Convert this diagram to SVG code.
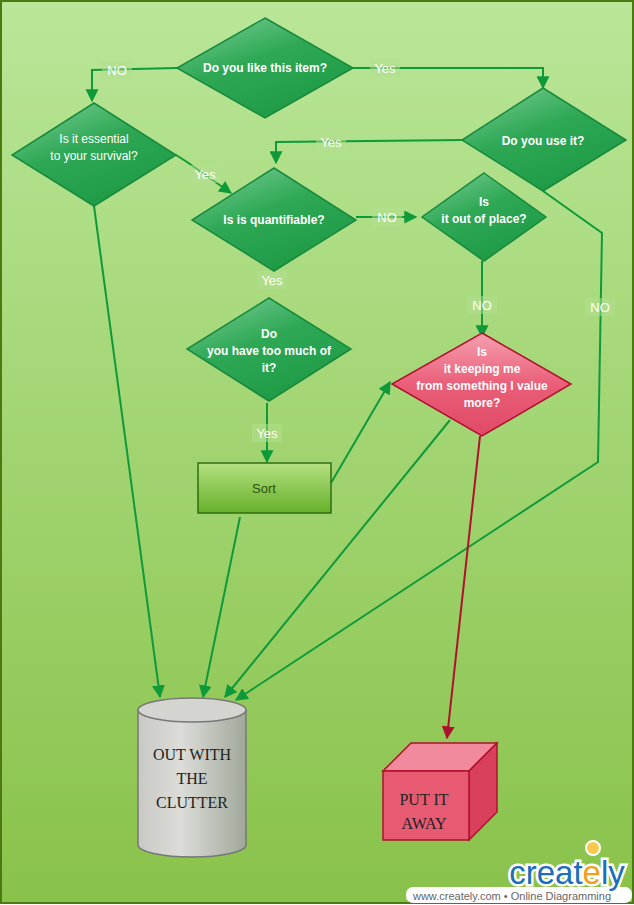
<svg xmlns="http://www.w3.org/2000/svg" width="634" height="905" viewBox="0 0 634 905">
<defs>
<linearGradient id="bg" x1="0" y1="0" x2="0" y2="1"><stop offset="0" stop-color="#b9e698"/><stop offset="1" stop-color="#89c24a"/></linearGradient>
<linearGradient id="dg" x1="0" y1="0" x2="0.6" y2="1"><stop offset="0" stop-color="#7dcf98"/><stop offset="0.5" stop-color="#2ea855"/><stop offset="1" stop-color="#1e9a45"/></linearGradient>
<linearGradient id="pg" x1="0" y1="0" x2="0" y2="1"><stop offset="0" stop-color="#f5a0b0"/><stop offset="0.5" stop-color="#ea5e78"/><stop offset="1" stop-color="#e04a66"/></linearGradient>
<linearGradient id="sg" x1="0" y1="0" x2="0" y2="1"><stop offset="0" stop-color="#b4e080"/><stop offset="1" stop-color="#66b02a"/></linearGradient>
<linearGradient id="cg" x1="0" y1="0" x2="1" y2="0"><stop offset="0" stop-color="#c8c8c4"/><stop offset="0.4" stop-color="#dcdcd8"/><stop offset="1" stop-color="#a0a89a"/></linearGradient>
<marker id="ag" viewBox="0 0 10 10" refX="9" refY="5" markerWidth="6.5" markerHeight="6.5" orient="auto"><path d="M0,0L10,5L0,10z" fill="#0f9a3a"/></marker>
<marker id="ar" viewBox="0 0 10 10" refX="9" refY="5" markerWidth="6.5" markerHeight="6.5" orient="auto"><path d="M0,0L10,5L0,10z" fill="#b0102e"/></marker>
</defs>
<style>
.d{fill:url(#dg);stroke:#188a3c;stroke-width:1.5}
.t{font-family:"Liberation Sans",Arial,sans-serif;font-size:12px;fill:#fff;text-anchor:middle}
.b{font-weight:bold}
.c{fill:none;stroke:#0f9a3a;stroke-width:2;marker-end:url(#ag)}
.lb{fill:#b4e090;opacity:0.5}
.lt{font-family:"Liberation Sans",Arial,sans-serif;font-size:13px;fill:#fff;text-anchor:middle}
.s{font-family:"Liberation Serif","Times New Roman",serif;font-size:16px;fill:#222;text-anchor:middle}
</style>
<rect x="1" y="1" width="632" height="902" fill="url(#bg)" stroke="#4a7a10" stroke-width="2"/>
<g id="connectors">
<polyline class="c" points="177,68 92,70 92,101"/>
<polyline class="c" points="353,68 543,68 543,88"/>
<polyline class="c" points="462,140 276,142 276,163"/>
<polyline class="c" points="176,155 187,162 231,193"/>
<polyline class="c" points="356,217 416,217"/>
<polyline class="c" points="482,261 482,337"/>
<polyline class="c" points="543,191 602,233 598,462 236,700"/>
<polyline class="c" points="267,403 267,462"/>
<polyline class="c" points="331,483 390,382"/>
<polyline class="c" points="94,206 160,697"/>
<polyline class="c" points="240,517 203,697"/>
<polyline class="c" points="450,420 225,697"/>
<polyline fill="none" stroke="#b0102e" stroke-width="2" marker-end="url(#ar)" points="480,436 447,738"/>
<g>
<rect class="lb" x="102" y="61" width="30" height="18"/><text class="lt" x="117" y="75">NO</text>
<rect class="lb" x="370" y="59" width="30" height="18"/><text class="lt" x="385" y="73">Yes</text>
<rect class="lb" x="316" y="133" width="30" height="18"/><text class="lt" x="331" y="147">Yes</text>
<rect class="lb" x="190" y="165" width="30" height="18"/><text class="lt" x="205" y="179">Yes</text>
<rect class="lb" x="372" y="208" width="30" height="18"/><text class="lt" x="387" y="222">NO</text>
<rect class="lb" x="257" y="271" width="30" height="18"/><text class="lt" x="272" y="285">Yes</text>
<rect class="lb" x="467" y="296" width="30" height="18"/><text class="lt" x="482" y="310">NO</text>
<rect class="lb" x="585" y="298" width="30" height="18"/><text class="lt" x="600" y="312">NO</text>
<rect class="lb" x="252" y="424" width="30" height="18"/><text class="lt" x="267" y="438">Yes</text>
</g>
</g>
<g id="n1"><polygon class="d" points="265,18 353,68 265,118 177,68"/><text class="t b" x="265" y="72">Do you like this  item?</text></g>
<g id="n2"><polygon class="d" points="543,88 626,140 543,191 462,140"/><text class="t b" x="543" y="145">Do you use  it?</text></g>
<g id="n3"><polygon class="d" points="94,103 176,155 94,206 12,155"/><text class="t" x="94" y="143">Is it essential</text><text class="t" x="94" y="160">to your  survival?</text></g>
<g id="n4"><polygon class="d" points="274,168 356,220 274,271 192,220"/><text class="t b" x="274" y="224">Is is quantifiable?</text></g>
<g id="n5"><polygon class="d" points="484,173 546,217 484,261 422,217"/><text class="t b" x="484" y="206">Is</text><text class="t b" x="484" y="223">it out of place?</text></g>
<g id="n6"><polygon class="d" points="269,298 351,349 269,401 187,349"/><text class="t b" x="269" y="338">Do</text><text class="t b" x="269" y="355">you have too  much of</text><text class="t b" x="269" y="372">it?</text></g>
<g id="n7"><polygon fill="url(#pg)" stroke="#b0102e" stroke-width="1.5" points="482,333 571,384 482,436 392,384"/><text class="t b" x="482" y="356">Is</text><text class="t b" x="482" y="373">it keeping me</text><text class="t b" x="482" y="390">from something  I value</text><text class="t b" x="482" y="407">more?</text></g>
<g id="sort"><rect x="198" y="463" width="133" height="50" fill="url(#sg)" stroke="#2f6e10" stroke-width="1.5"/><text x="264" y="493" font-family="Liberation Sans,Arial,sans-serif" font-size="13" fill="#2a5010" text-anchor="middle">Sort</text></g>
<g id="clutter"><path d="M138,710 V845 A54,12 0 0 0 246,845 V710" fill="url(#cg)" stroke="#777" stroke-width="1.5"/><ellipse cx="192" cy="710" rx="54" ry="12" fill="#d4d4d0" stroke="#777" stroke-width="1.5"/><text class="s" x="192" y="760">OUT WITH</text><text class="s" x="192" y="784">THE</text><text class="s" x="192" y="808">CLUTTER</text></g>
<g id="away"><polygon points="383,771 411,743 497,743 469,771" fill="#f08a9c" stroke="#b0102e" stroke-width="1.5"/><polygon points="469,771 497,743 497,812 469,840" fill="#d8405c" stroke="#b0102e" stroke-width="1.5"/><rect x="383" y="771" width="86" height="69" fill="#e85a72" stroke="#b0102e" stroke-width="1.5"/><text class="s" x="424" y="805">PUT IT</text><text class="s" x="424" y="829">AWAY</text></g>
<g id="logo">
<rect x="406" y="887" width="226" height="16" rx="7" fill="#fff"/>
<text x="512" y="900" font-family="Liberation Sans,Arial,sans-serif" font-size="11" fill="#666" text-anchor="middle">www.creately.com • Online Diagramming</text>
<text x="567" y="884" font-family="Liberation Sans,Arial,sans-serif" font-size="33" fill="#1a6fb8" text-anchor="middle" stroke="#fff" stroke-width="5" paint-order="stroke">creat<tspan fill="#f0a020">e</tspan>ly</text>
<circle cx="593" cy="848" r="7" fill="#f7c84a" stroke="#fff" stroke-width="2"/>
</g>
</svg>
